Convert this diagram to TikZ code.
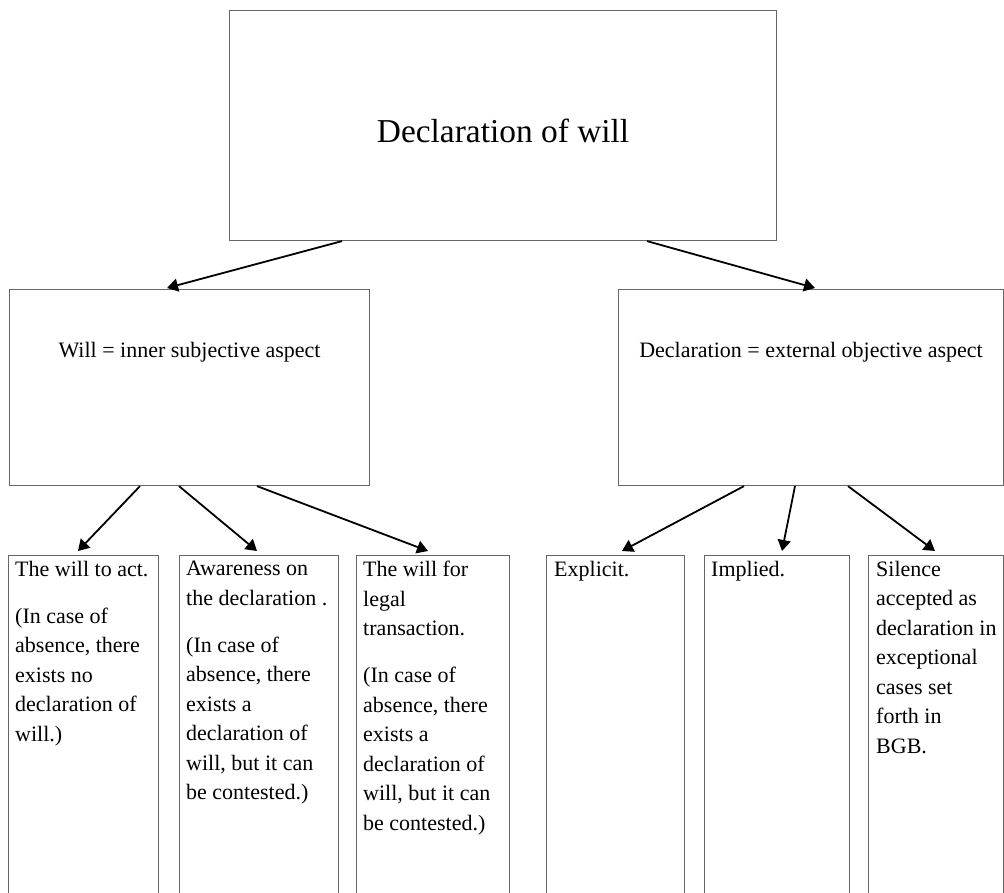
\documentclass[tikz,border=0pt]{standalone}
\usepackage{fontspec}
\setmainfont{Liberation Serif}
\usetikzlibrary{positioning,arrows.meta}

\begin{document}
\begin{tikzpicture}[x=1pt,y=-1pt,
    box/.style={draw=black!60, line width=1.1pt, rectangle, inner sep=0pt, anchor=north west},
    txt/.style={inner sep=0pt, font=\fontsize{22}{29.5}\selectfont},
    para/.style={txt, anchor=north west, align=left},
    arr/.style={-{Triangle[length=11pt,width=13pt]}, line width=1.8pt}]
  \useasboundingbox (0,0) rectangle (1004,892);
  \clip (0,0) rectangle (1004,892);
  \node[box, minimum width=547pt, minimum height=230pt] (dow) at (229,10) {};
  \node[inner sep=0pt, font=\fontsize{33.4}{40}\selectfont] (dowtxt) at ([yshift=-5pt]dow.center) {Declaration of will};

  \node[box, minimum width=360pt, minimum height=196pt] (will) at (9,289) {};
  \node[txt] (willtxt) at ([yshift=-63pt]will.north) {Will = inner subjective aspect};
  \node[box, minimum width=385pt, minimum height=196pt] (decl) at (618,289) {};
  \node[txt] (decltxt) at ([yshift=-63pt]decl.north) {Declaration = external objective aspect};

  \node[box, minimum width=150pt, minimum height=400pt] (act) at (8,555) {};
  \node[box, minimum width=159pt, minimum height=400pt] (aware) at (179,555) {};
  \node[box, minimum width=153pt, minimum height=400pt] (legal) at (356,555) {};
  \node[box, minimum width=138pt, minimum height=400pt] (expl) at (546,555) {};
  \node[box, minimum width=145pt, minimum height=400pt] (impl) at (704,555) {};
  \node[box, minimum width=135pt, minimum height=400pt] (sil) at (868,555) {};

  \node[para] (acttxt) at ([xshift=7pt,yshift=-6pt]act.north west) {The will to act.\\[17.5pt]
    (In case of\\absence, there\\exists no\\declaration of\\will.)};
  \node[para] (awaretxt) at ([xshift=7pt,yshift=-6pt]aware.north west) {Awareness on\\the declaration .\\[17.5pt]
    (In case of\\absence, there\\exists a\\declaration of\\will, but it can\\be contested.)};
  \node[para] (legaltxt) at ([xshift=7pt,yshift=-6pt]legal.north west) {The will for\\legal\\transaction.\\[17.5pt]
    (In case of\\absence, there\\exists a\\declaration of\\will, but it can\\be contested.)};
  \node[para] (expltxt) at ([xshift=8pt,yshift=-6pt]expl.north west) {Explicit.};
  \node[para] (impltxt) at ([xshift=7pt,yshift=-6pt]impl.north west) {Implied.};
  \node[para] (siltxt) at ([xshift=8pt,yshift=-6pt]sil.north west) {Silence\\accepted as\\declaration in\\exceptional\\cases set\\forth in\\BGB.};

  \draw[arr] ([xshift=113pt]dow.south west) -- ([xshift=158pt,yshift=1pt]will.north west);
  \draw[arr] ([xshift=418pt]dow.south west) -- ([xshift=197pt,yshift=1pt]decl.north west);

  \draw[arr] ([xshift=131pt]will.south west) -- ([xshift=70pt,yshift=4pt]act.north west);
  \draw[arr] ([xshift=170pt]will.south west) -- ([xshift=78pt,yshift=4pt]aware.north west);
  \draw[arr] ([xshift=248pt]will.south west) -- ([xshift=72pt,yshift=4pt]legal.north west);
  \draw[arr] ([xshift=126pt]decl.south west) -- ([xshift=76pt,yshift=4pt]expl.north west);
  \draw[arr] ([xshift=177pt]decl.south west) -- ([xshift=78pt,yshift=4pt]impl.north west);
  \draw[arr] ([xshift=230pt]decl.south west) -- ([xshift=67pt,yshift=4pt]sil.north west);
\end{tikzpicture}
\end{document}
